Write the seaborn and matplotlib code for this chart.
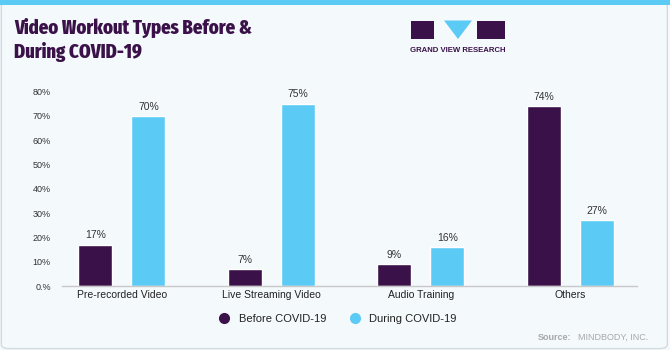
import matplotlib
matplotlib.use("Agg")
import matplotlib.pyplot as plt
import matplotlib.patches as mpatches
import seaborn as sns
import pandas as pd

categories = ["Pre-recorded Video", "Live Streaming Video", "Audio Training", "Others"]
before = [17, 7, 9, 74]
during = [70, 75, 16, 27]
series = ["Before COVID-19", "During COVID-19"]
ytick_vals = [0, 10, 20, 30, 40, 50, 60, 70, 80]
ytick_labels = ["0.%", "10%", "20%", "30%", "40%", "50%", "60%", "70%", "80%"]
title_lines = ["Video Workout Types Before &", "During COVID-19"]

PURPLE = "#3A1249"
BLUE = "#5BCBF5"
BG = "#F4F9FC"

df = pd.DataFrame({
    "cat": categories * 2,
    "val": before + during,
    "series": [series[0]] * 4 + [series[1]] * 4,
})

sns.set_theme(style="white")
plt.rcParams["font.family"] = ["Liberation Sans", "DejaVu Sans"]

fig = plt.figure(figsize=(6.7, 3.5), dpi=100)
fig.patch.set_facecolor(BG)

# frame and top stripe
fig.add_artist(mpatches.FancyBboxPatch((0.002, 0.004), 0.994, 0.99,
               boxstyle="round,pad=0,rounding_size=0.012", transform=fig.transFigure,
               facecolor="none", edgecolor="#D5DADF", lw=1.0))
fig.add_artist(mpatches.Rectangle((0, 0.985), 1, 0.015, transform=fig.transFigure,
               facecolor=BLUE, edgecolor="none"))

ax = fig.add_axes([62 / 670, 64 / 350, 575 / 670, 194.6 / 350])
ax.set_facecolor(BG)
sns.barplot(data=df, x="cat", y="val", hue="series", order=categories,
            hue_order=series, palette=[PURPLE, BLUE], width=0.71, gap=0.36,
            ax=ax, legend=False, saturation=1)

for cont in ax.containers:
    labels = [f"{int(round(b.get_height()))}%" for b in cont]
    ax.bar_label(cont, labels=labels, padding=3, fontsize=7.5, color="#333333", clip_on=False)

ax.set_xlim(-0.40, 3.445)
ax.set_ylim(0, 80)
ax.set_yticks(ytick_vals)
ax.set_yticklabels(ytick_labels, fontsize=6.5, color="#333333")
ax.tick_params(axis="y", length=0, pad=8)
ax.tick_params(axis="x", length=0, pad=3, labelsize=7.5, labelcolor="#222222")
ax.set_xlabel("")
ax.set_ylabel("")
for s in ["top", "right", "left"]:
    ax.spines[s].set_visible(False)
ax.spines["bottom"].set_color("#C8C8C8")
ax.spines["bottom"].set_linewidth(1.0)

# title
title_fam = ["Fira Sans Extra Condensed", "Barlow Condensed", "Liberation Sans Narrow",
             "Liberation Sans", "DejaVu Sans"]
for i, line in enumerate(title_lines):
    fig.text(14 / 670, 1 - (34 + 23.5 * i) / 350, line, fontsize=14.5, fontweight="heavy",
             color=PURPLE, ha="left", va="baseline", family=title_fam)

# logo
def px(x, y):
    return (x / 670, 1 - y / 350)

fig.add_artist(mpatches.Rectangle(px(411, 39), 23 / 670, 18.5 / 350, transform=fig.transFigure,
               facecolor=PURPLE, edgecolor="none"))
fig.add_artist(mpatches.Polygon([px(444, 20.5), px(472, 20.5), px(458, 39)], closed=True,
               transform=fig.transFigure, facecolor=BLUE, edgecolor="none"))
fig.add_artist(mpatches.Rectangle(px(477, 39), 28 / 670, 18.5 / 350, transform=fig.transFigure,
               facecolor=PURPLE, edgecolor="none"))
fig.text(458 / 670, 1 - 51 / 350, "GRAND VIEW RESEARCH", fontsize=5.6, fontweight="bold",
         color=PURPLE, ha="center", va="center")

# legend
handles = [plt.Line2D([], [], marker="o", ls="", markersize=7, color=c) for c in [PURPLE, BLUE]]
fig.legend(handles, series, loc="center", bbox_to_anchor=(335 / 670, 1 - 319 / 350),
           ncol=2, frameon=False, fontsize=8, handletextpad=0.3, columnspacing=1.6,
           labelcolor="#222222")

# source
fig.text(538 / 670, 1 - 337 / 350, "Source:", fontsize=6.5, color="#A8A8A8",
         ha="left", va="center", fontweight="bold")
fig.text(578 / 670, 1 - 337 / 350, "MINDBODY, INC.", fontsize=6.5, color="#A8A8A8",
         ha="left", va="center")

fig.savefig("out.png", dpi=100, facecolor=BG)
